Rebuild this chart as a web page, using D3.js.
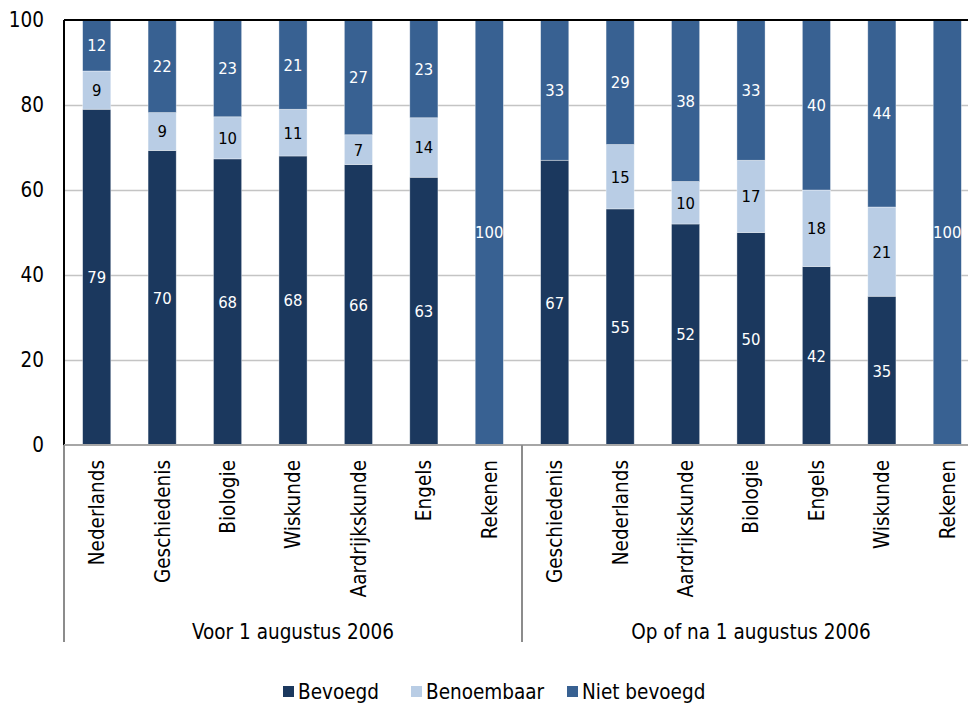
<!DOCTYPE html>
<html>
<head>
<meta charset="utf-8">
<script src="https://cdn.jsdelivr.net/npm/d3@7"></script>
<style>
  body { margin: 0; background: #fff; }
  svg { font-family: "DejaVu Sans Condensed", "DejaVu Sans", sans-serif; }
</style>
</head>
<body>
<svg id="chart" width="968" height="704"></svg>
<script>
// data
const groups = ["Voor 1 augustus 2006", "Op of na 1 augustus 2006"];
const subjectsVoor = ["Nederlands", "Geschiedenis", "Biologie", "Wiskunde", "Aardrijkskunde", "Engels", "Rekenen"];
const subjectsNa = ["Geschiedenis", "Nederlands", "Aardrijkskunde", "Biologie", "Engels", "Wiskunde", "Rekenen"];
const seriesNames = ["Bevoegd", "Benoembaar", "Niet bevoegd"];
const bevoegd = [79, 70, 68, 68, 66, 63, 0, 67, 55, 52, 50, 42, 35, 0];
const benoembaar = [9, 9, 10, 11, 7, 14, 0, 0, 15, 10, 17, 18, 21, 0];
const nietBevoegd = [12, 22, 23, 21, 27, 23, 100, 33, 29, 38, 33, 40, 44, 100];
const yTicks = [0, 20, 40, 60, 80, 100];

const colors = ["#1b385e", "#b9cde5", "#386192"];
const labelColors = ["#ffffff", "#000000", "#ffffff"];

const svg = d3.select("svg#chart");
const margin = { top: 20, left: 64, bottom: 259 };
const plotRight = 980;
const height = +svg.attr("height");
const chartHeight = height - margin.top - margin.bottom;
const axisFont = 20.5;

// one row per bar
const subjects = subjectsVoor.concat(subjectsNa);
const rows = subjects.map((s, i) => ({
    key: i,
    subject: s,
    group: i < subjectsVoor.length ? 0 : 1,
    Bevoegd: bevoegd[i],
    Benoembaar: benoembaar[i],
    "Niet bevoegd": nietBevoegd[i]
}));

// 100% stacked like the original
const stack = d3.stack().keys(seriesNames).offset(d3.stackOffsetExpand);
const stacked = stack(rows);

const x = d3.scaleBand().domain(rows.map(d => d.key))
    .range([margin.left, plotRight]).paddingInner(0.57).paddingOuter(0.285);
const y = d3.scaleLinear().domain([0, 100]).range([margin.top + chartHeight, margin.top]);

// gridlines
svg.append("g").attr("class", "gridlines")
    .attr("transform", `translate(${margin.left},0)`)
    .call(d3.axisLeft(y).tickValues(yTicks.slice(1, -1)).tickSize(-(plotRight - margin.left)).tickFormat(""))
    .call(g => g.select(".domain").remove())
    .selectAll("line").attr("stroke", "#c4c4c4").attr("stroke-width", 1.5);

// bars
const layers = svg.append("g").attr("id", "bars").selectAll("g").data(stacked).join("g")
    .attr("fill", (d, i) => colors[i]);
layers.selectAll("rect").data(d => d).join("rect")
    .attr("x", d => x(d.data.key))
    .attr("y", d => y(d[1] * 100))
    .attr("height", d => y(d[0] * 100) - y(d[1] * 100))
    .attr("width", x.bandwidth())
    .attr("stroke", "#ffffff").attr("stroke-opacity", 0.5).attr("stroke-width", 0.7);

// data labels
const labels = svg.append("g").attr("id", "labels");
stacked.forEach((layer, i) => {
    labels.selectAll(null).data(layer.filter(d => d.data[layer.key] > 0)).join("text")
        .attr("x", d => x(d.data.key) + x.bandwidth() / 2)
        .attr("y", d => y((d[0] + d[1]) / 2 * 100))
        .attr("dy", "0.36em")
        .attr("text-anchor", "middle")
        .attr("font-size", 16.5)
        .attr("fill", labelColors[i])
        .text(d => d.data[layer.key]);
});

// y axis
const leftAxis = d3.axisLeft(y).tickValues(yTicks).tickSize(0).tickPadding(20);
svg.append("g").attr("class", "y axis")
    .attr("transform", `translate(${margin.left},0)`)
    .call(leftAxis)
    .call(g => g.select(".domain").remove())
    .selectAll("text").attr("font-size", axisFont).attr("fill", "#000")
    .attr("font-family", "'DejaVu Sans Condensed', 'DejaVu Sans', sans-serif");

// frame: black top and left, grey baseline
const base = y(0);
svg.append("line").attr("x1", margin.left).attr("x2", plotRight)
    .attr("y1", margin.top).attr("y2", margin.top).attr("stroke", "#000").attr("stroke-width", 2);
svg.append("line").attr("x1", margin.left).attr("x2", margin.left)
    .attr("y1", margin.top).attr("y2", base).attr("stroke", "#000").attr("stroke-width", 2);
svg.append("line").attr("x1", margin.left).attr("x2", plotRight)
    .attr("y1", base).attr("y2", base).attr("stroke", "#a6a6a6").attr("stroke-width", 2);

// category labels
const catAxis = svg.append("g").attr("class", "x axis");
catAxis.selectAll("text").data(rows).join("text")
    .attr("transform", d => `translate(${x(d.key) + x.bandwidth() / 2},${base + 15}) rotate(-90)`)
    .attr("text-anchor", "end")
    .attr("dy", "0.36em")
    .attr("font-size", axisFont)
    .text(d => d.subject);

// group level: separators and group names
const groupEdges = [margin.left, x(subjectsVoor.length) - x.step() * x.paddingInner() / 2, plotRight];
catAxis.selectAll("line.sep").data(groupEdges).join("line").attr("class", "sep")
    .attr("x1", d => d).attr("x2", d => d)
    .attr("y1", base).attr("y2", base + 197)
    .attr("stroke", "#8c8c8c").attr("stroke-width", 2);
catAxis.selectAll("text.group").data(groups).join("text").attr("class", "group")
    .attr("x", (d, i) => (groupEdges[i] + groupEdges[i + 1]) / 2)
    .attr("y", base + 194)
    .attr("text-anchor", "middle")
    .attr("font-size", axisFont)
    .text(d => d);

// legend
const legendX = [283, 411, 567];
const legend = svg.append("g").attr("class", "legend")
    .selectAll("g").data(seriesNames).join("g")
    .attr("transform", (d, i) => `translate(${legendX[i]},692)`);
legend.append("rect").attr("x", 0).attr("y", -6).attr("width", 11).attr("height", 11)
    .attr("fill", (d, i) => colors[i]);
legend.append("text").attr("x", 15).attr("dy", "0.36em").attr("font-size", axisFont).text(d => d);
</script>
</body>
</html>
